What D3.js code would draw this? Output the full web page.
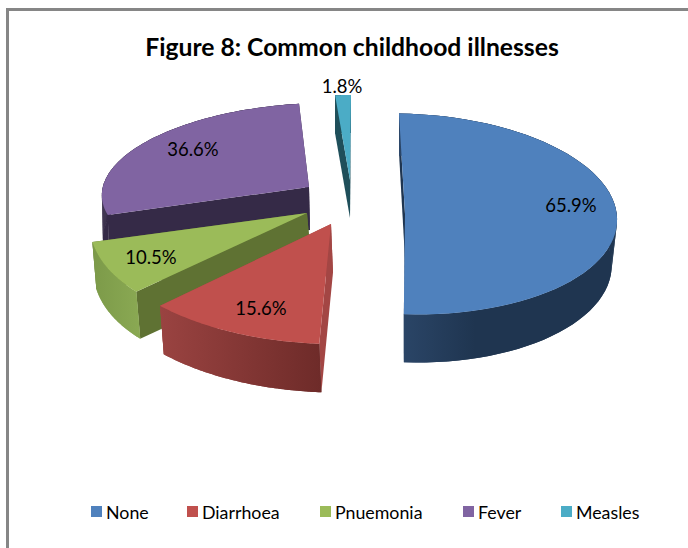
<!DOCTYPE html>
<html><head><meta charset="utf-8">
<script src="https://cdn.jsdelivr.net/npm/d3@7"></script>
<style>html,body{margin:0;padding:0;background:#fff}svg{display:block}text{font-family:Lato,"Open Sans",sans-serif;fill:#000}</style>
</head><body><div id="chart"></div>
<script>
const categories = ["None","Diarrhoea","Pnuemonia","Fever","Measles"];
const values = [65.9,15.6,10.5,36.6,1.8];
const valueLabels = ["65.9%","15.6%","10.5%","36.6%","1.8%"];
const topColors = ["#4f81bd","#c0504d","#9bbb59","#8064a2","#4bacc6"];
const cutColors = ["#1f3550","#a34644","#5f7233","#352a47","#1f4f5a"];
const rimFrom = ["#2b4668","#9a4341","#7c9a49","#352a47","#1f4f5a"];
const rimTo = ["#1f3550","#6e2b29","#8aa953","#352a47","#1f4f5a"];
// projected 3-D layout of each exploded slice
const apexX = [405,331,307,309,350];
const apexY = [214,224,213,187,180];
const radiusX = [212,238,216,207,184];
const shearX = [-6,3.7,25.5,8,1];
const radiusY = [100.5,120,114,84,85];
const shearY = [3,4.3,2.6,-5,0];
const depthDx = [0,2,4,1,0];
const depthDy = [45,48.5,47,43,38];
const floorScaleX = [0.975,0.99,1,1,1];
const floorScaleY = [1.03,1,1,1,1];
const labelX = [571,261,151,193,342];
const labelY = [212,315,264,156,93];
const drawOrder = [3,4,0,2,1];
const legendX = [91,187,320,463,561];

const W=688,H=548;
const svg=d3.select("#chart").append("svg").attr("width",W).attr("height",H);
const defs=svg.append("defs");
svg.append("path").attr("d",`M7.5 ${H} V9.5 H${W}`).attr("fill","none").attr("stroke","#868686").attr("stroke-width",3);
svg.append("text").attr("x",352).attr("y",56).attr("text-anchor","middle").attr("font-size",24.7).attr("font-weight",700).text("Figure 8: Common childhood illnesses");

const arcs=d3.pie().sort(null).value(d=>d)(values);
const upper=(i,t)=>[apexX[i]+radiusX[i]*Math.sin(t)+shearX[i]*Math.cos(t), apexY[i]-radiusY[i]*Math.cos(t)+shearY[i]*Math.sin(t)];
const lower=(i,t)=>[apexX[i]+depthDx[i]+floorScaleX[i]*(radiusX[i]*Math.sin(t)+shearX[i]*Math.cos(t)), apexY[i]+depthDy[i]-floorScaleY[i]*radiusY[i]*Math.cos(t)+shearY[i]*Math.sin(t)];
const line=d3.line();
const angles=(a,b)=>d3.range(0,61).map(k=>a+(b-a)*k/60);
const pie=svg.append("g");
drawOrder.forEach(i=>{
  const a=arcs[i].startAngle,b=arcs[i].endAngle;
  const g=pie.append("g");
  const ax=[apexX[i],apexY[i]],axb=[apexX[i]+depthDx[i],apexY[i]+depthDy[i]];
  [b,a].forEach(t=>g.append("path").attr("d",line([ax,upper(i,t),lower(i,t),axb])+"Z").attr("fill",cutColors[i]));
  const ts=angles(a,b);
  const tp=ts.map(t=>upper(i,t)),bp=ts.map(t=>lower(i,t));
  const ex=d3.extent(tp.concat(bp),d=>d[0]);
  const gid="rim"+i;
  const lg=defs.append("linearGradient").attr("id",gid).attr("gradientUnits","userSpaceOnUse").attr("x1",ex[0]).attr("x2",ex[1]).attr("y1",0).attr("y2",0);
  if(i===0){lg.append("stop").attr("offset",0).attr("stop-color",rimFrom[i]);lg.append("stop").attr("offset",0.35).attr("stop-color",rimTo[i]);lg.append("stop").attr("offset",1).attr("stop-color",rimTo[i]);}
  else{lg.append("stop").attr("offset",0).attr("stop-color",rimFrom[i]);lg.append("stop").attr("offset",1).attr("stop-color",rimTo[i]);}
  g.append("path").attr("d",line(tp.concat(bp.slice().reverse()))+"Z").attr("fill",`url(#${gid})`);
  // swept quads keep the silhouette straight where the rim turns away from the viewer
  d3.pairs(ts).forEach(([t0,t1])=>g.append("path").attr("d",line([upper(i,t0),upper(i,t1),lower(i,t1),lower(i,t0)])+"Z").attr("fill",`url(#${gid})`));
  g.append("path").attr("d",line([ax].concat(tp))+"Z").attr("fill",topColors[i]);
});
svg.append("g").selectAll("text").data(valueLabels).join("text").attr("x",(d,i)=>labelX[i]).attr("y",(d,i)=>labelY[i]).attr("text-anchor","middle").attr("font-size",18.5).text(d=>d);
const leg=svg.append("g").selectAll("g").data(categories).join("g").attr("transform",(d,i)=>`translate(${legendX[i]},506)`);
leg.append("rect").attr("width",11).attr("height",11).attr("fill",(d,i)=>topColors[i]);
leg.append("text").attr("x",15).attr("y",13).attr("font-size",17.8).text(d=>d);
</script></body></html>
